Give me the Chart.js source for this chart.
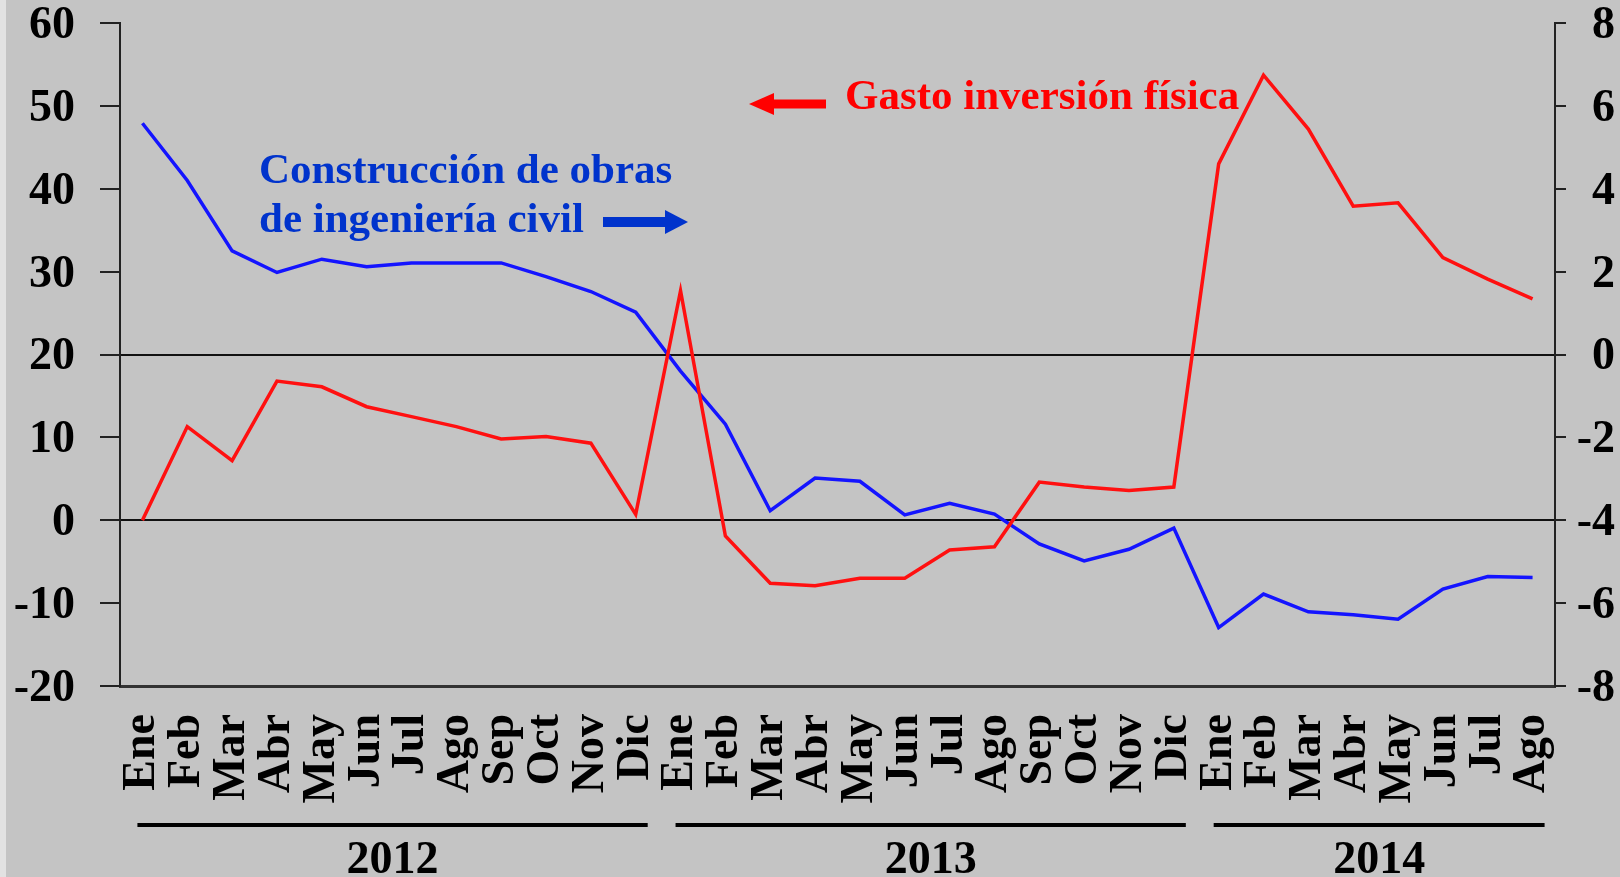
<!DOCTYPE html>
<html>
<head>
<meta charset="utf-8">
<script src="https://cdn.jsdelivr.net/npm/chart.js@4"></script>
<style>
  html, body { margin: 0; padding: 0; }
  body { width: 1620px; height: 877px; background: linear-gradient(to right, #e2e2e2 0 6px, #c4c4c4 6px); }
  #wrap { width: 1620px; height: 877px; }
</style>
</head>
<body>
<div id="wrap"><canvas id="myChart"></canvas></div>
<script>
// months, Ene 2012 .. Ago 2014
const months = ['Ene','Feb','Mar','Abr','May','Jun','Jul','Ago','Sep','Oct','Nov','Dic',
                'Ene','Feb','Mar','Abr','May','Jun','Jul','Ago','Sep','Oct','Nov','Dic',
                'Ene','Feb','Mar','Abr','May','Jun','Jul','Ago'];

// Gasto inversión física (left axis)
const gasto = [0.0, 11.3, 7.2, 16.8, 16.1, 13.7, 12.5, 11.3, 9.8, 10.1, 9.3, 0.7,
               27.7, -1.9, -7.6, -7.9, -7.0, -7.0, -3.6, -3.2, 4.6, 4.0, 3.6, 4.0,
               43.0, 53.7, 47.2, 37.9, 38.3, 31.7, 29.1, 26.7];

// Construcción de obras de ingeniería civil (right axis)
const construccion = [5.58, 4.2, 2.5, 1.98, 2.3, 2.12, 2.21, 2.21, 2.21, 1.88, 1.52, 1.02,
                      -0.4, -1.68, -3.77, -2.98, -3.06, -3.87, -3.59, -3.85, -4.57, -4.98, -4.7, -4.19,
                      -6.59, -5.78, -6.21, -6.28, -6.39, -5.66, -5.36, -5.38];

const years = ['2012', '2013', '2014'];
const yearStart = [0, 12, 24];
const yearEnd = [11, 23, 31];

const leftTicks = { min: -20, max: 60, step: 10 };
const rightTicks = { min: -8, max: 8, step: 2 };
const refLines = [20, 0];

const serif = '"Liberation Serif", "Times New Roman", serif';

function arrow(ctx, tail, tip, y, shaft, headH, headL, color){
    const dir = tip > tail ? 1 : -1;
    const base = tip - dir * headL;
    ctx.fillStyle = color;
    ctx.fillRect(Math.min(tail, base), y - shaft / 2, Math.abs(base - tail), shaft);
    ctx.beginPath();
    ctx.moveTo(tip, y);
    ctx.lineTo(base, y - headH / 2);
    ctx.lineTo(base, y + headH / 2);
    ctx.closePath();
    ctx.fill();
}

const overlay = {
    id: 'overlay',
    afterDraw(chart){
        const ctx = chart.ctx;
        const xs = chart.scales.x;
        ctx.save();
        // year brackets
        ctx.fillStyle = '#000';
        ctx.font = 'bold 46px ' + serif;
        ctx.textAlign = 'center';
        ctx.textBaseline = 'alphabetic';
        years.forEach((yr, i) => {
            const a = xs.getPixelForValue(yearStart[i]) - 5;
            const b = xs.getPixelForValue(yearEnd[i]) + 12;
            ctx.fillRect(a, 823, b - a, 4);
            ctx.fillText(yr, (a + b) / 2, 873);
        });
        // series captions
        ctx.textAlign = 'left';
        ctx.font = 'bold 43px ' + serif;
        ctx.fillStyle = '#0033cc';
        ctx.fillText('Construcción de obras', 259, 183);
        ctx.fillText('de ingeniería civil', 259, 232);
        arrow(ctx, 603, 688, 222, 10, 24, 23, '#0033cc');
        ctx.fillStyle = '#ff0000';
        ctx.fillText('Gasto inversión física', 845, 109);
        arrow(ctx, 826, 749, 104, 9, 22, 25, '#ff0000');
        ctx.restore();
    }
};

function fitY(width){
    return scale => {
        scale.width = width;
        scale.paddingTop = 23;
        scale.paddingBottom = 0;
    };
}

const ctx = document.getElementById('myChart');
new Chart(ctx, {
    type: 'line',
    data: {
        labels: months,
        datasets: [{
            label: 'Gasto inversión física',
            data: gasto,
            yAxisID: 'y',
            borderColor: '#ff1010',
            borderWidth: 3.5,
            pointRadius: 0,
            tension: 0
        }, {
            label: 'Construcción de obras de ingeniería civil',
            data: construccion,
            yAxisID: 'y1',
            borderColor: '#1414ff',
            borderWidth: 3.5,
            pointRadius: 0,
            tension: 0
        }]
    },
    options: {
        responsive: true,
        maintainAspectRatio: false,
        animation: false,
        layout: { padding: { top: 0, right: 5, bottom: 0, left: 0 } },
        plugins: {
            legend: { display: false },
            tooltip: { enabled: false }
        },
        scales: {
            x: {
                offset: true,
                grid: { display: true, color: 'transparent', drawTicks: false },
                border: { display: true, color: '#333', width: 3 },
                ticks: {
                    autoSkip: false,
                    minRotation: 90,
                    maxRotation: 90,
                    padding: 28,
                    color: '#000',
                    font: { family: serif, size: 46, weight: 'bold', lineHeight: 1 }
                },
                afterFit(scale){ scale.height = 191; }
            },
            y: {
                position: 'left',
                min: leftTicks.min,
                max: leftTicks.max,
                grid: {
                    color: c => refLines.includes(c.tick && c.tick.value) ? '#111' : 'transparent',
                    tickColor: '#222',
                    tickLength: 20,
                    lineWidth: 2
                },
                border: { display: true, color: '#222', width: 2 },
                ticks: {
                    stepSize: leftTicks.step,
                    padding: 25,
                    labelOffset: 3,
                    color: '#000',
                    font: { family: serif, size: 46, weight: 'bold', lineHeight: 1 }
                },
                afterFit: fitY(120)
            },
            y1: {
                position: 'right',
                min: rightTicks.min,
                max: rightTicks.max,
                grid: { drawOnChartArea: false, tickColor: '#222', tickLength: 11, lineWidth: 2 },
                border: { display: true, color: '#222', width: 2 },
                ticks: {
                    stepSize: rightTicks.step,
                    padding: 10,
                    crossAlign: 'far',
                    labelOffset: 3,
                    color: '#000',
                    font: { family: serif, size: 46, weight: 'bold', lineHeight: 1 }
                },
                afterFit: fitY(60)
            }
        }
    },
    plugins: [overlay]
});
</script>
</body>
</html>
